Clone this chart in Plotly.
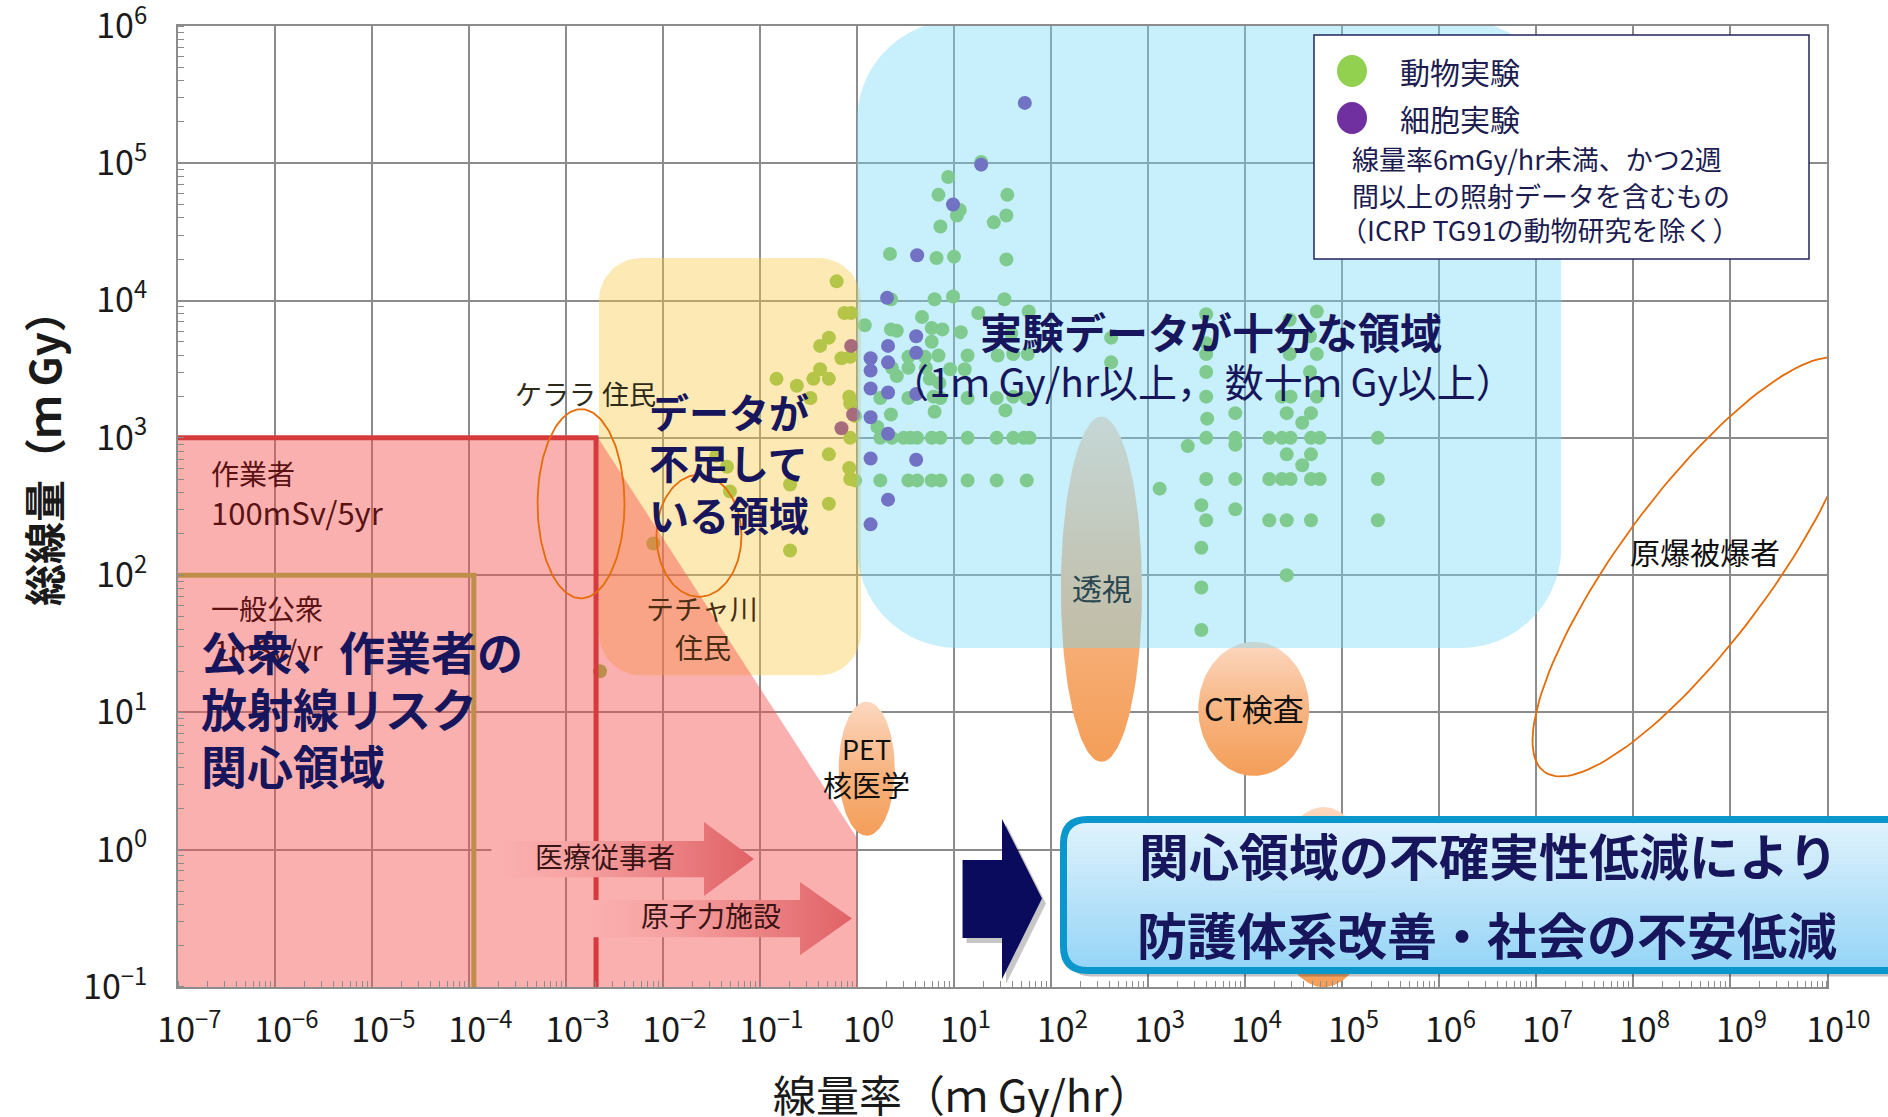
import numpy as np
import plotly.graph_objects as go

# ---------------------------------------------------------------------------
# Figure geometry (pixels) and axis ranges (log10 decades)
# ---------------------------------------------------------------------------
W, H = 1888, 1117
ML, MR, MT, MB = 178, 61, 26, 130
PW, PH = W - ML - MR, H - MT - MB
X_RANGE = (-7, 10)   # dose rate, mGy/hr
Y_RANGE = (-1, 6)    # total dose, mGy
PX_PER_DEC_X = PW / (X_RANGE[1] - X_RANGE[0])
PX_PER_DEC_Y = PH / (Y_RANGE[1] - Y_RANGE[0])
EPS = 1e-4           # keeps the end ticks inside the range
FONT = "Noto Sans CJK JP"
NAVY = "#17165C"

# ---------------------------------------------------------------------------
# Study data: log10(dose rate [mGy/hr]) and log10(total dose [mGy])
# ---------------------------------------------------------------------------
animal_log10_rate = [
    # below 1 mGy/hr
    -0.21, -0.13, -0.06, -0.38, -0.29, -0.16, -0.07, -0.38, -0.83, -0.62,
    -0.45, -0.29, -0.48, -0.08, -0.07, -0.07, -0.29, -0.08, -0.07, -0.69,
    -1.31, -1.45, -1.34, -0.29, -0.69, -2.10, -2.65, -0.02, -0.02,
    # 1 - 100 mGy/hr
    1.28, 0.94, 0.84, 1.06, 1.03, 0.86, 1.55, 1.54, 1.41, 0.34,
    0.82, 1.00, 1.54, 0.35, 0.80, 0.99, 1.52, 1.25, 0.67, 0.08,
    0.35, 0.41, 0.77, 0.88, 1.07, 0.77, 0.53, 0.70, 0.84, 1.14,
    1.45, 1.61, 1.76, 2.62, 2.62, 0.36, 0.41, 0.96, 1.11, 1.77,
    1.59, 0.53, 0.71, 0.75, 0.85,
    0.24, 0.53, 0.79, 0.86, 1.14, 1.44, 1.61, 1.75, 0.35, 0.80,
    1.53, 0.21,
    0.24, 0.36, 0.48, 0.55, 0.62, 0.77, 0.86, 1.14, 1.44, 1.61,
    1.72, 1.78,
    0.24, 0.53, 0.62, 0.77, 0.86, 1.14, 1.44, 1.75,
    # high dose-rate group
    3.60, 3.60, 3.60, 3.60, 4.74, 4.46, 4.67, 4.46, 4.74, 4.67,
    3.60, 3.61, 3.60, 3.41, 3.60, 3.12, 3.55, 3.60, 3.55, 3.55,
    3.55, 3.90, 3.90, 3.90, 3.90, 3.90, 4.38, 4.47, 4.74, 4.43,
    4.68, 4.59, 4.25, 4.38, 4.47, 4.68, 4.77, 4.43, 4.68, 4.59,
    4.25, 4.38, 4.47, 4.68, 4.77, 4.25, 4.43, 4.68, 4.43, 5.37,
    5.37, 5.37,
]
animal_log10_dose = [
    4.14, 3.91, 3.91, 3.67, 3.73, 3.58, 3.59, 3.50, 3.43, 3.38,
    3.43, 3.43, 3.29, 3.30, 3.25, 3.00, 2.88, 2.78, 2.70, 2.66,
    2.61, 2.87, 2.79, 2.52, 2.18, 2.23, 1.30, 3.16, 2.69,
    5.01, 4.90, 4.77, 4.66, 4.62, 4.54, 4.77, 4.62, 4.57, 4.34,
    4.31, 4.32, 4.30, 4.01, 4.01, 4.03, 4.01, 3.91, 3.88, 3.82,
    3.79, 3.78, 3.80, 3.79, 3.77, 3.70, 3.59, 3.59, 3.60, 3.60,
    3.60, 3.61, 3.61, 3.73, 3.55, 3.51, 3.45, 3.50, 3.50, 3.92,
    3.76, 3.51, 3.51, 3.43, 3.40,
    3.29, 3.29, 3.30, 3.29, 3.29, 3.29, 3.30, 3.29, 3.17, 3.19,
    3.20, 3.08,
    3.00, 3.00, 3.00, 3.00, 3.00, 3.00, 3.00, 3.00, 3.00, 3.00,
    3.00, 3.00,
    2.69, 2.69, 2.69, 2.69, 2.69, 2.69, 2.69, 2.69,
    3.90, 3.69, 3.61, 3.48, 3.92, 3.86, 3.74, 3.61, 3.61, 3.48,
    3.30, 3.14, 3.00, 2.94, 2.70, 2.63, 2.51, 2.40, 2.20, 1.91,
    1.60, 3.18, 3.00, 2.95, 2.70, 2.48, 3.30, 3.30, 3.30, 3.18,
    3.18, 3.11, 3.00, 3.00, 3.00, 3.00, 3.00, 2.88, 2.88, 2.80,
    2.70, 2.70, 2.70, 2.70, 2.70, 2.40, 2.40, 2.40, 2.00, 3.00,
    2.70, 2.40,
]
cell_log10_rate = [
    1.73, 1.28, 0.99, 0.62, 0.31, 0.61, 0.32, 0.61, 0.14, 0.32,
    0.14, 0.14, 0.32, 0.61, 0.14, 0.32, 0.14, 0.61, 0.32, 0.14,
    -0.06, -0.16, -0.04,
]
cell_log10_dose = [
    5.44, 4.99, 4.70, 4.33, 4.02, 3.74, 3.67, 3.62, 3.58, 3.55,
    3.49, 3.36, 3.33, 3.32, 3.15, 3.03, 2.85, 2.84, 2.55, 2.37,
    3.67, 3.07, 3.17,
]

# dose limits: (log10 rate of the vertical edge, log10 total dose)
worker_limit = (-2.69, 3.0)    # 100 mSv / 5 yr
public_limit = (-3.95, 2.0)    # 1 mSv / yr

tick_exponents_x = list(range(-7, 11))
tick_exponents_y = list(range(-1, 7))


def sup(k):
    return "10<sup>" + (str(k) if k >= 0 else "\u2212" + str(-k)) + "</sup>"


tick_text_x = ["&nbsp;&nbsp;&nbsp;" + sup(k) for k in tick_exponents_x]
tick_text_y = [sup(k) for k in tick_exponents_y]


# ---------------------------------------------------------------------------
# helpers
# ---------------------------------------------------------------------------
def paper_x(px):
    return (px - ML) / PW


def paper_y(py):
    return (H - MB - py) / PH


def to_data(xs, ys):
    return 10 ** np.asarray(xs, float), 10 ** np.asarray(ys, float)


def rounded_rect(x0, x1, y0, y1, r_px, n=14):
    rx, ry = r_px / PX_PER_DEC_X, r_px / PX_PER_DEC_Y
    xs, ys = [], []
    for cx, cy, a0, a1 in [(x1 - rx, y1 - ry, 0, 90), (x0 + rx, y1 - ry, 90, 180),
                           (x0 + rx, y0 + ry, 180, 270), (x1 - rx, y0 + ry, 270, 360)]:
        t = np.radians(np.linspace(a0, a1, n))
        xs += list(cx + rx * np.cos(t))
        ys += list(cy + ry * np.sin(t))
    xs.append(xs[0])
    ys.append(ys[0])
    return to_data(xs, ys)


def ellipse(cx, cy, rx, ry, angle=0.0, n=140):
    """Ellipse centred at (cx, cy) decades, semi-axes in decades, rotated on screen."""
    t = np.linspace(0, 2 * np.pi, n)
    u = rx * PX_PER_DEC_X * np.cos(t)
    v = ry * PX_PER_DEC_Y * np.sin(t)
    a = np.radians(angle)
    ur = u * np.cos(a) - v * np.sin(a)
    vr = u * np.sin(a) + v * np.cos(a)
    return to_data(cx + ur / PX_PER_DEC_X, cy + vr / PX_PER_DEC_Y)


fig = go.Figure()


def add_poly(x, y, **kw):
    fig.add_trace(go.Scatter(x=x, y=y, mode="lines", hoverinfo="skip",
                             showlegend=False, **kw))


# public limit line (seen through the pink overlay)
px_, py_ = to_data([X_RANGE[0] - 0.2, public_limit[0], public_limit[0]],
                   [public_limit[1], public_limit[1], Y_RANGE[0] - 0.2])
add_poly(px_, py_, line=dict(color="#92C346", width=5))

# study markers
ax_, ay_ = to_data(animal_log10_rate, animal_log10_dose)
fig.add_trace(go.Scatter(x=ax_, y=ay_, mode="markers", name="動物実験",
                         marker=dict(size=14, color="#88C44A", line=dict(width=0)),
                         hoverinfo="skip", showlegend=False))
cx_, cy_ = to_data(cell_log10_rate, cell_log10_dose)
fig.add_trace(go.Scatter(x=cx_, y=cy_, mode="markers", name="細胞実験",
                         marker=dict(size=14, color="#7030A0", line=dict(width=0)),
                         hoverinfo="skip", showlegend=False))

# medical exposure ellipses (PET, fluoroscopy, CT, ...)
peach = [[0, "rgb(244,158,88)"], [0.45, "rgb(247,178,125)"], [1, "rgb(252,216,192)"]]
for c in [(0.10, 0.59, 0.289, 0.488), (2.52, 1.897, 0.418, 1.257),
          (4.09, 1.026, 0.572, 0.488), (4.81, -0.345, 0.52, 0.656)]:
    ex, ey = ellipse(*c)
    add_poly(ex, ey, fill="toself", line=dict(width=0),
             fillgradient=dict(type="vertical", colorscale=peach))

# translucent regions
yx, yy = rounded_rect(-2.66, 0.04, 1.27, 4.31, 42)
add_poly(yx, yy, fill="toself", fillcolor="rgba(250,200,67,0.40)", line=dict(width=0))

pink_x, pink_y = to_data([-7.3, worker_limit[0] + 0.02, 0.0, 0.0, -7.3],
                         [3.0, 3.0, 0.085, -1.3, -1.3])
add_poly(pink_x, pink_y, fill="toself", fillcolor="rgba(246,80,80,0.45)", line=dict(width=0))

bx, by = rounded_rect(0.0, 7.26, 1.47, 6.04, 100)
add_poly(bx, by, fill="toself", fillcolor="rgba(115,215,248,0.40)", line=dict(width=0))

# worker limit line
rx_, ry_ = to_data([X_RANGE[0] - 0.2, worker_limit[0], worker_limit[0]],
                   [worker_limit[1], worker_limit[1], Y_RANGE[0] - 0.2])
add_poly(rx_, ry_, line=dict(color="#D63A3C", width=5))

# occupational arrows
arrow_scale = [[0, "rgb(251,177,177)"], [0.35, "rgb(246,160,160)"], [1, "rgb(224,98,102)"]]
for body_x0, head_x, tip_x, yc, half_body, half_head in [
        (-3.77, -1.577, -1.062, -0.068, 0.132, 0.27),
        (-2.86, -0.588, -0.052, -0.502, 0.135, 0.267)]:
    axx, ayy = to_data(
        [body_x0, head_x, head_x, tip_x, head_x, head_x, body_x0, body_x0],
        [yc + half_body, yc + half_body, yc + half_head, yc, yc - half_head,
         yc - half_body, yc - half_body, yc + half_body])
    add_poly(axx, ayy, fill="toself", line=dict(width=0),
             fillgradient=dict(type="horizontal", colorscale=arrow_scale))

# big navy arrow pointing at the conclusion box (with a soft shadow)
nav_x = [1.088, 1.495, 1.495, 1.907, 1.495, 1.495, 1.088, 1.088]
nav_y = [-0.075, -0.075, 0.224, -0.356, -0.942, -0.644, -0.644, -0.075]
sx, sy = to_data(np.array(nav_x) + 4 / PX_PER_DEC_X, np.array(nav_y) - 5 / PX_PER_DEC_Y)
add_poly(sx, sy, fill="toself", fillcolor="rgba(0,0,0,0.22)", line=dict(width=0))
nx, ny = to_data(nav_x, nav_y)
add_poly(nx, ny, fill="toself", fillcolor="#0B0B5E", line=dict(width=0))

# population outlines
for c in [dict(cx=-2.845, cy=2.52, rx=0.448, ry=0.689),
          dict(cx=-1.629, cy=2.287, rx=0.438, ry=0.445),
          dict(cx=8.65, cy=2.06, rx=255 / PX_PER_DEC_X, ry=75 / PX_PER_DEC_Y, angle=53.4)]:
    ex, ey = ellipse(**c)
    add_poly(ex, ey, line=dict(color="#E46C0A", width=1.8))

# ---------------------------------------------------------------------------
# shapes in paper space: conclusion box and legend
# ---------------------------------------------------------------------------
shapes = []
BL, BT, BB, BR, RAD = 1063.5, 819.5, 970.5, 1910.0, 24.0


def box_path(l, t, b, r, rad):
    def P(x, y):
        return f"{paper_x(x):.5f},{paper_y(y):.5f}"
    return (f"M {P(r, t)} L {P(l + rad, t)} Q {P(l, t)} {P(l, t + rad)} "
            f"L {P(l, b - rad)} Q {P(l, b)} {P(l + rad, b)} L {P(r, b)} Z")


shapes.append(dict(type="path", xref="paper", yref="paper", layer="above",
                   path=box_path(BL + 4, BT + 6, BB + 6, BR, RAD),
                   fillcolor="rgba(40,40,40,0.28)", line=dict(width=0)))


def left_edge(y):
    if y < BT + RAD:
        d = BT + RAD - y
        return BL + RAD - np.sqrt(max(RAD ** 2 - d ** 2, 0))
    if y > BB - RAD:
        d = y - (BB - RAD)
        return BL + RAD - np.sqrt(max(RAD ** 2 - d ** 2, 0))
    return BL


top_c, bot_c = np.array([224, 243, 253]), np.array([150, 213, 247])
edges = np.linspace(BT, BB, 41)
for i in range(40):
    y0, y1 = edges[i], edges[i + 1] + 0.6
    c = top_c + (bot_c - top_c) * (i / 39)
    path = (f"M {paper_x(left_edge(y0)):.5f},{paper_y(y0):.5f} "
            f"L {paper_x(BR):.5f},{paper_y(y0):.5f} "
            f"L {paper_x(BR):.5f},{paper_y(min(y1, BB)):.5f} "
            f"L {paper_x(left_edge(min(y1, BB))):.5f},{paper_y(min(y1, BB)):.5f} Z")
    shapes.append(dict(type="path", xref="paper", yref="paper", layer="above", path=path,
                       fillcolor=f"rgb({int(c[0])},{int(c[1])},{int(c[2])})",
                       line=dict(width=0)))
shapes.append(dict(type="path", xref="paper", yref="paper", layer="above",
                   path=box_path(BL, BT, BB, BR, RAD).replace(" Z", ""),
                   line=dict(color="#0A97CC", width=7)))

# legend frame and symbols
shapes.append(dict(type="rect", xref="paper", yref="paper", layer="above",
                   x0=paper_x(1314), x1=paper_x(1809), y0=paper_y(259), y1=paper_y(35),
                   fillcolor="white", line=dict(color="#25255E", width=1.5)))
for yc, col in [(71, "#92D050"), (118, "#7030A0")]:
    shapes.append(dict(type="circle", xref="paper", yref="paper", layer="above",
                       x0=paper_x(1337), x1=paper_x(1367), y0=paper_y(yc + 16), y1=paper_y(yc - 16),
                       fillcolor=col, line=dict(width=0)))

# ---------------------------------------------------------------------------
# text
# ---------------------------------------------------------------------------
annotations = []


def label(text, x, y, size, color="#111111", anchor="left", bold=False, angle=0):
    annotations.append(dict(
        text=text, x=paper_x(x), y=paper_y(y), xref="paper", yref="paper",
        xanchor=anchor, yanchor="middle", showarrow=False, textangle=angle,
        font=dict(family=FONT, size=size, color=color, weight="bold" if bold else "normal")))


label("ケララ 住民", 513, 393, 27, "#2E2A1A")
label("作業者", 209, 473, 28, "#5A1212")
label("100mSv/5yr", 209, 511, 31, "#5A1212")
label("一般公衆", 209, 608, 28, "#5A1212")
label("1mSv/yr", 212, 649, 28, "#5A1212")
for txt, yy_ in [("公衆、作業者の", 650), ("放射線リスク", 707), ("関心領域", 764)]:
    label(txt, 199, yy_, 46, NAVY, bold=True)
for txt, yy_ in [("データが", 411), ("不足して", 462), ("いる領域", 514)]:
    label(txt, 647, yy_, 40, NAVY, bold=True)
label("テチャ川", 702, 608, 28, "#4A2E12", anchor="center")
label("住民", 703, 647, 28, "#4A2E12", anchor="center")
label("PET", 866, 748, 27, "#111111", anchor="center")
label("核医学", 866, 784, 29, "#111111", anchor="center")
label("透視", 1102, 587, 30, "#2A4750", anchor="center")
label("CT検査", 1254, 707, 31, "#111111", anchor="center")
label("原爆被爆者", 1705, 551, 30, "#111111", anchor="center")
label("実験データが十分な領域", 978, 330, 42, NAVY, bold=True)
label("（1ｍ Gy/hr以上， 数十ｍ Gy以上）", 888, 380, 39, NAVY)
label("医療従事者", 533, 856, 28, "#3A1414")
label("原子力施設", 639, 915, 28, "#3A1414")
label("関心領域の不確実性低減により", 1488, 854, 50, NAVY, anchor="center", bold=True)
label("防護体系改善・社会の不安低減", 1487, 933, 50, NAVY, anchor="center", bold=True)

# legend text
label("動物実験", 1398, 71, 30, "#1C1C50")
label("細胞実験", 1398, 118, 30, "#1C1C50")
label("線量率6ｍGy/hr未満、かつ2週", 1350, 159, 27, "#1C1C50")
label("間以上の照射データを含むもの", 1350, 195, 27, "#1C1C50")
label("（ICRP TG91の動物研究を除く）", 1338, 229, 27, "#1C1C50")

# axis titles
label("線量率（ｍ Gy/hr）", 962, 1093, 43, "#1A1A1A", anchor="center")
label("総線量（ｍ Gy）", 42, 448, 42, "#1A1A1A", anchor="center", bold=True, angle=-90)

axis_common = dict(
    type="log", showgrid=True, gridcolor="#8C8C8C", gridwidth=1.5,
    showline=True, linecolor="#8C8C8C", linewidth=2, mirror=True,
    ticks="", zeroline=False, automargin=False, ticklabeloverflow="allow",
    tickfont=dict(family=FONT, size=34, color="#1A1A1A"),
    minor=dict(ticks="inside", ticklen=6, tickwidth=1.2, tickcolor="#8C8C8C",
               showgrid=False, dtick="D1"),
)

fig.update_layout(
    width=W, height=H,
    margin=dict(l=ML, r=MR, t=MT, b=MB, autoexpand=False),
    paper_bgcolor="white", plot_bgcolor="white", showlegend=False,
    font=dict(family=FONT),
    xaxis=dict(range=[X_RANGE[0] - EPS, X_RANGE[1] + EPS],
               tickvals=[10.0 ** k for k in tick_exponents_x],
               ticktext=tick_text_x, ticklabelstandoff=12, **axis_common),
    yaxis=dict(range=[Y_RANGE[0] - EPS, Y_RANGE[1] + EPS],
               tickvals=[10.0 ** k for k in tick_exponents_y],
               ticktext=tick_text_y, ticklabelstandoff=22, **axis_common),
    shapes=shapes,
    annotations=annotations,
)

fig.write_html("out.html")
